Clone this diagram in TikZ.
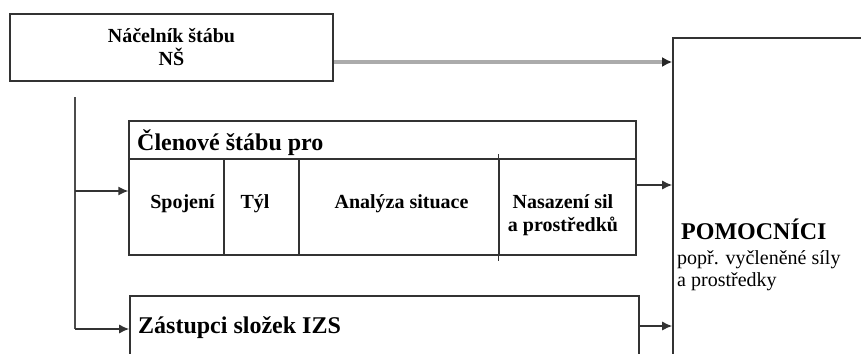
\documentclass[tikz,border=0pt]{standalone}
\usepackage{fontspec}
\setmainfont{Liberation Serif}
\usetikzlibrary{arrows.meta}

\tikzset{
  box/.style={draw=black!80, line width=1.6pt, inner sep=0pt},
  cell/.style={draw=black!80, line width=1.3pt, inner sep=0pt, minimum height=96},
  bigtxt/.style={font=\fontsize{24}{26}\selectfont\bfseries, inner sep=0pt},
  celltxt/.style={font=\fontsize{20}{23}\selectfont\bfseries, inner sep=0pt, align=center},
  smalltxt/.style={font=\fontsize{20}{22.5}\selectfont, inner sep=0pt, align=left},
  link/.style={line width=1.3pt, draw=black!80, -{Latex[length=10pt,width=9pt]}},
  graylink/.style={line width=3.5pt, draw=black!33, -{Latex[length=10pt,width=10pt,color=black!85]}}
}

\begin{document}
\begin{tikzpicture}[x=1pt, y=-1pt]
      \useasboundingbox (0,0) rectangle (861,353);
      \clip (0,0) rectangle (861,353);

      % boxes
      \node[box, minimum width=323, minimum height=67, celltxt] (ns) at (171.5,47.5) {Náčelník štábu\\NŠ};
      \node[box, minimum width=227, minimum height=382] (pom) at (786.5,229) {};

      \node[cell, minimum width=507, minimum height=38] (clen) at (382.5,140) {};
      \node[cell, minimum width=95] (spojeni) at (176.5,207) {};
      \node[cell, minimum width=75] (tyl) at (261.5,207) {};
      \node[cell, minimum width=200] (analyza) at (399,207) {};
      \node[cell, minimum width=137] (nasazeni) at (567.5,207) {};
      \draw[line width=1.3pt, black!80] ([yshift=4pt]nasazeni.north west) -- ([yshift=-5pt]nasazeni.south west);

      \node[box, minimum width=509, minimum height=104] (zast) at (384.5,348) {};

      % texts
      \node[bigtxt, anchor=base west] (clentxt) at (137,150) {Členové štábu pro};
      \node[celltxt, anchor=base] (spojenitxt) at (182.5,208) {Spojení};
      \node[celltxt, anchor=base] (tyltxt) at (255,208) {Týl};
      \node[celltxt, anchor=base] (analyzatxt) at (401.5,208) {Analýza situace};
      \node[celltxt, anchor=north] (nasazenitxt) at (563,194) {Nasazení sil\\a prostředků};
      \node[bigtxt, anchor=base west] (zasttxt) at (138,333) {Zástupci složek IZS};
      \node[bigtxt, anchor=base west] (pomtxt) at (681,239) {POMOCNÍCI};
      \node[smalltxt, anchor=north west] (pomsub) at (677,250) {popř. vyčleněné síly\\a prostředky};

      % connectors
      \coordinate (nsout) at ([yshift=-14.5pt]ns.east);
      \draw[graylink] (nsout) -- (nsout -| pom.west);

      \coordinate (trunk) at (75,97);
      \coordinate (clenin) at (75,191);
      \coordinate (zastin) at (75,329);
      \draw[line width=1.5pt, black!70] (trunk) -- (zastin);
      \draw[link] (clenin) -- (clenin -| spojeni.west);
      \draw[link] (zastin) -- (zastin -| zast.west);

      \coordinate (clenout) at (nasazeni.east |- 0,185);
      \coordinate (zastout) at (zast.east |- 0,326);
      \draw[link] (clenout) -- (clenout -| pom.west);
      \draw[link] (zastout) -- (zastout -| pom.west);
    \end{tikzpicture}
\end{document}
